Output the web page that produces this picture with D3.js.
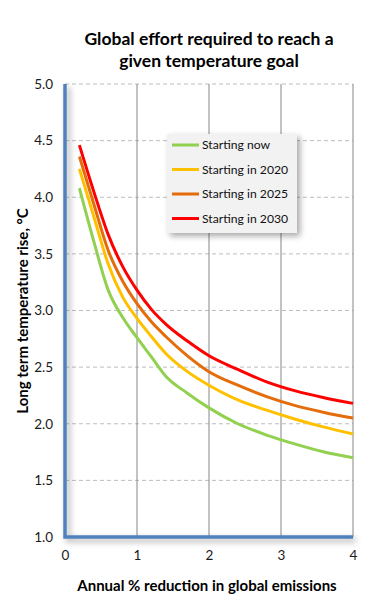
<!DOCTYPE html>
<html>
<head>
<meta charset="utf-8">
<script src="https://cdn.jsdelivr.net/npm/d3@7"></script>
<style>
  body { margin: 0; background: #fff; }
  text { font-family: Lato, "Open Sans", sans-serif; }
</style>
</head>
<body>
<script>
"use strict";

// values
const reduction = [0.2, 0.4, 0.6, 0.8, 1.0, 1.2, 1.4, 1.7, 2.0, 2.4, 2.8, 3.2, 3.6, 4.0];
const startNow  = [4.08, 3.61, 3.18, 2.94, 2.76, 2.59, 2.42, 2.27, 2.14, 2.00, 1.90, 1.82, 1.75, 1.70];
const start2020 = [4.25, 3.83, 3.41, 3.12, 2.93, 2.77, 2.62, 2.46, 2.34, 2.21, 2.12, 2.04, 1.97, 1.91];
const start2025 = [4.36, 3.94, 3.53, 3.26, 3.06, 2.90, 2.77, 2.60, 2.46, 2.34, 2.24, 2.16, 2.10, 2.05];
const start2030 = [4.46, 4.05, 3.67, 3.39, 3.18, 3.01, 2.88, 2.73, 2.60, 2.48, 2.37, 2.29, 2.23, 2.18];

const seriesNames = ["Starting now", "Starting in 2020", "Starting in 2025", "Starting in 2030"];
const seriesColors = ["#92d050", "#ffc000", "#e46c0a", "#ff0000"];
const xTicks = [0, 1, 2, 3, 4];
const yTicks = [1.0, 1.5, 2.0, 2.5, 3.0, 3.5, 4.0, 4.5, 5.0];

const width = 378, height = 608;
const margin = {left: 65, right: 25, top: 84, bottom: 71};

let series = [startNow, start2020, start2025, start2030].map((vals, i) => ({
  name: seriesNames[i],
  color: seriesColors[i],
  points: vals.map((v, j) => ({x: reduction[j], y: v}))
}));

let svg = d3.select("body").append("svg")
    .attr("width", width)
    .attr("height", height);

let x = d3.scaleLinear().domain([0, 4]).range([margin.left, width - margin.right]);
let y = d3.scaleLinear().domain([1, 5]).range([height - margin.bottom, margin.top]);

let defs = svg.append("defs");
let shadow = defs.append("filter").attr("id", "shadow")
    .attr("x", "-20%").attr("y", "-20%").attr("width", "150%").attr("height", "150%");
shadow.append("feGaussianBlur").attr("in", "SourceAlpha").attr("stdDeviation", 3);
shadow.append("feOffset").attr("dx", 3).attr("dy", 3).attr("result", "blur");
shadow.append("feComponentTransfer").append("feFuncA").attr("type", "linear").attr("slope", 0.35);
let merge = shadow.append("feMerge");
merge.append("feMergeNode");
merge.append("feMergeNode").attr("in", "SourceGraphic");

// title
svg.append("text")
    .attr("x", 209).attr("y", 45)
    .attr("text-anchor", "middle")
    .attr("font-size", 17.5).attr("font-weight", "bold")
    .text("Global effort required to reach a");
svg.append("text")
    .attr("x", 209).attr("y", 67)
    .attr("text-anchor", "middle")
    .attr("font-size", 17.5).attr("font-weight", "bold")
    .text("given temperature goal");

// horizontal dashed gridlines
svg.append("g")
  .selectAll("line")
  .data(yTicks.filter(d => d > 1))
  .join("line")
    .attr("x1", x(0)).attr("x2", x(4))
    .attr("y1", d => y(d)).attr("y2", d => y(d))
    .attr("stroke", "#bdbdbd")
    .attr("stroke-dasharray", "4,3");

// vertical gridlines
svg.append("g")
  .selectAll("line")
  .data(xTicks.filter(d => d > 0))
  .join("line")
    .attr("x1", d => x(d)).attr("x2", d => x(d))
    .attr("y1", y(5)).attr("y2", y(1))
    .attr("stroke", "#868686");

// axes
let yAxis = svg.append("g")
    .attr("transform", `translate(${margin.left - 9},0)`)
    .call(d3.axisLeft(y).tickValues(yTicks).tickFormat(d3.format(".1f")).tickSize(0));
yAxis.select(".domain").remove();
yAxis.selectAll("text").attr("font-size", 13.5).attr("fill", "#1a1a1a")
    .attr("font-family", "Lato, sans-serif");

let xAxis = svg.append("g")
    .attr("transform", `translate(0,${height - margin.bottom + 10})`)
    .call(d3.axisBottom(x).tickValues(xTicks).tickFormat(d3.format("d")).tickSize(0));
xAxis.select(".domain").remove();
xAxis.selectAll("text").attr("font-size", 13.5).attr("fill", "#1a1a1a")
    .attr("font-family", "Lato, sans-serif");

// blue axis lines
svg.append("path")
    .attr("d", `M${x(0)},${y(5)}V${y(1)}H${x(4)}`)
    .attr("fill", "none")
    .attr("stroke", "#4f81bd")
    .attr("stroke-width", 3.5)
    .attr("filter", "url(#shadow)");

// series
let line = d3.line()
    .x(d => x(d.x))
    .y(d => y(d.y))
    .curve(d3.curveMonotoneX);

svg.append("g")
  .selectAll("path")
  .data(series)
  .join("path")
    .attr("d", d => line(d.points))
    .attr("fill", "none")
    .attr("stroke", d => d.color)
    .attr("stroke-width", 3);

// axis titles
svg.append("text")
    .attr("x", 207).attr("y", 591)
    .attr("text-anchor", "middle")
    .attr("font-size", 15).attr("font-weight", "bold")
    .text("Annual % reduction in global emissions");
svg.append("text")
    .attr("transform", "translate(28,311) rotate(-90)")
    .attr("text-anchor", "middle")
    .attr("font-size", 15).attr("font-weight", "bold")
    .text("Long term temperature rise, °C");

// legend
let legend = svg.append("g").attr("transform", "translate(167,134)");
legend.append("rect")
    .attr("width", 130).attr("height", 99)
    .attr("fill", "#f2f2f2")
    .attr("filter", "url(#shadow)");
let item = legend.selectAll("g.item")
  .data(series)
  .join("g")
    .attr("class", "item")
    .attr("transform", (d, i) => `translate(0,${11 + i * 24.5})`);
item.append("line")
    .attr("x1", 5).attr("x2", 32)
    .attr("stroke", d => d.color)
    .attr("stroke-width", 3);
item.append("text")
    .attr("x", 35).attr("dy", "0.35em")
    .attr("font-size", 12.2)
    .attr("fill", "#111")
    .text(d => d.name);
</script>
</body>
</html>
